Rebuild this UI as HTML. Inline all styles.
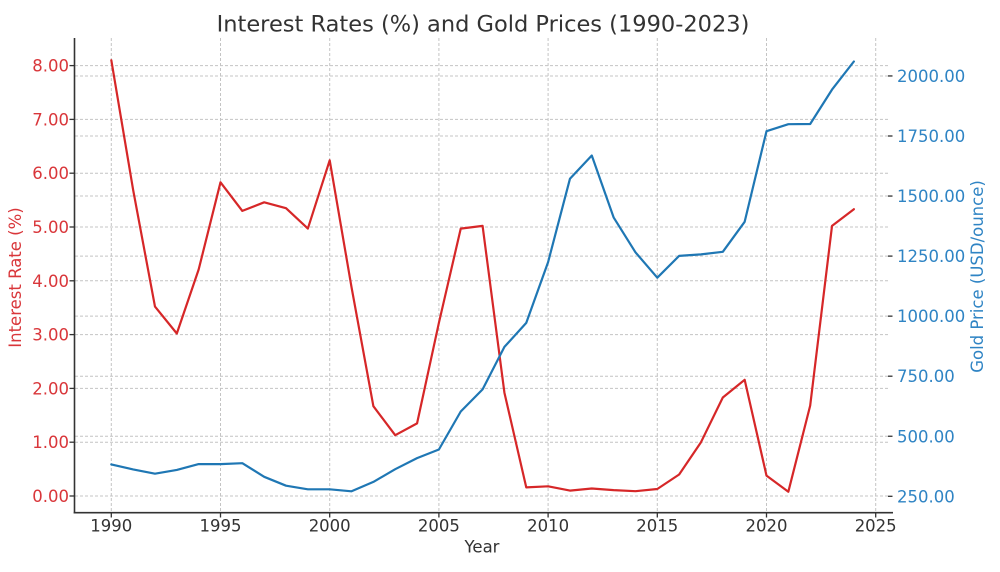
<!DOCTYPE html>
<html>
<head>
<meta charset="utf-8">
<style>
  html,body{margin:0;padding:0;background:#fff;}
  svg{display:block;}
  text{font-family:"DejaVu Sans","Liberation Sans",sans-serif;}
</style>
</head>
<body>
<svg width="1000" height="572" viewBox="0 0 1000 572" xmlns="http://www.w3.org/2000/svg">
  <rect x="0" y="0" width="1000" height="572" fill="#ffffff"/>

  <!-- vertical grid -->
  <g stroke="#c4c4c4" stroke-width="1" stroke-dasharray="3,2" fill="none">
    <line x1="111.3" y1="38" x2="111.3" y2="512"/>
    <line x1="220.5" y1="38" x2="220.5" y2="512"/>
    <line x1="329.7" y1="38" x2="329.7" y2="512"/>
    <line x1="438.9" y1="38" x2="438.9" y2="512"/>
    <line x1="548.1" y1="38" x2="548.1" y2="512"/>
    <line x1="657.3" y1="38" x2="657.3" y2="512"/>
    <line x1="766.5" y1="38" x2="766.5" y2="512"/>
    <line x1="875.7" y1="38" x2="875.7" y2="512"/>
  </g>
  <!-- horizontal grid (left axis) -->
  <g stroke="#c4c4c4" stroke-width="1" stroke-dasharray="3,2" fill="none">
    <line x1="75" y1="496" x2="889" y2="496"/>
    <line x1="75" y1="442.2" x2="889" y2="442.2"/>
    <line x1="75" y1="388.4" x2="889" y2="388.4"/>
    <line x1="75" y1="334.6" x2="889" y2="334.6"/>
    <line x1="75" y1="280.8" x2="889" y2="280.8"/>
    <line x1="75" y1="227" x2="889" y2="227"/>
    <line x1="75" y1="173.2" x2="889" y2="173.2"/>
    <line x1="75" y1="119.4" x2="889" y2="119.4"/>
    <line x1="75" y1="65.6" x2="889" y2="65.6"/>
  </g>
  <!-- horizontal grid (right axis) -->
  <g stroke="#c4c4c4" stroke-width="1" stroke-dasharray="3,2" fill="none">
    <line x1="75" y1="436.25" x2="889" y2="436.25"/>
    <line x1="75" y1="376.2" x2="889" y2="376.2"/>
    <line x1="75" y1="316.15" x2="889" y2="316.15"/>
    <line x1="75" y1="256.1" x2="889" y2="256.1"/>
    <line x1="75" y1="196.05" x2="889" y2="196.05"/>
    <line x1="75" y1="136" x2="889" y2="136"/>
    <line x1="75" y1="75.95" x2="889" y2="75.95"/>
  </g>

  <!-- Interest rate series -->
  <polyline fill="none" stroke="#d62728" stroke-width="2.2" stroke-linejoin="round" stroke-linecap="round"
    points="111.3,60.2 133.14,189.9 154.98,306.6 176.82,333.5 198.66,269.5 220.5,182.3 242.34,210.9 264.18,202.3 286.02,208.2 307.86,228.6 329.7,160.3 351.54,287.3 373.38,406.2 395.22,435.2 417.06,423.4 438.9,322.8 460.74,228.6 482.58,225.9 504.42,392.7 526.26,487.4 548.1,486.3 569.94,490.6 591.78,488.5 613.62,490.1 635.46,491.2 657.3,489.0 679.14,474.5 700.98,442.2 722.82,397.5 744.66,379.8 766.5,475.6 788.34,491.7 810.18,405.6 832.02,225.9 853.86,209.2"/>

  <!-- Gold price series -->
  <polyline fill="none" stroke="#1f77b4" stroke-width="2.2" stroke-linejoin="round" stroke-linecap="round"
    points="111.3,464.4 133.14,469.4 154.98,473.7 176.82,469.9 198.66,464.1 220.5,464.1 242.34,463.2 264.18,476.8 286.02,485.7 307.86,489.3 329.7,489.3 351.54,491.3 373.38,481.9 395.22,469.2 417.06,458.1 438.9,449.5 460.74,411.5 482.58,389.4 504.42,346.9 526.26,322.9 548.1,262.1 569.94,178.8 591.78,155.5 613.62,217.4 635.46,252.3 657.3,277.7 679.14,255.9 700.98,254.4 722.82,251.8 744.66,221.8 766.5,131.2 788.34,124.2 810.18,124.0 832.02,89.6 853.86,61.5"/>

  <!-- spines -->
  <line x1="74.5" y1="38" x2="74.5" y2="513.5" stroke="#333" stroke-width="1.6"/>
  <line x1="73.7" y1="512.7" x2="893" y2="512.7" stroke="#333" stroke-width="1.6"/>

  <!-- x ticks -->
  <g stroke="#333" stroke-width="1.3">
    <line x1="111.3" y1="512.7" x2="111.3" y2="517.5"/>
    <line x1="220.5" y1="512.7" x2="220.5" y2="517.5"/>
    <line x1="329.7" y1="512.7" x2="329.7" y2="517.5"/>
    <line x1="438.9" y1="512.7" x2="438.9" y2="517.5"/>
    <line x1="548.1" y1="512.7" x2="548.1" y2="517.5"/>
    <line x1="657.3" y1="512.7" x2="657.3" y2="517.5"/>
    <line x1="766.5" y1="512.7" x2="766.5" y2="517.5"/>
    <line x1="875.7" y1="512.7" x2="875.7" y2="517.5"/>
  </g>
  <!-- left ticks -->
  <g stroke="#333" stroke-width="1.3">
    <line x1="69.5" y1="496" x2="74.5" y2="496"/>
    <line x1="69.5" y1="442.2" x2="74.5" y2="442.2"/>
    <line x1="69.5" y1="388.4" x2="74.5" y2="388.4"/>
    <line x1="69.5" y1="334.6" x2="74.5" y2="334.6"/>
    <line x1="69.5" y1="280.8" x2="74.5" y2="280.8"/>
    <line x1="69.5" y1="227" x2="74.5" y2="227"/>
    <line x1="69.5" y1="173.2" x2="74.5" y2="173.2"/>
    <line x1="69.5" y1="119.4" x2="74.5" y2="119.4"/>
    <line x1="69.5" y1="65.6" x2="74.5" y2="65.6"/>
  </g>
  <!-- right ticks -->
  <g stroke="#333" stroke-width="1.3">
    <line x1="888" y1="496.3" x2="892.5" y2="496.3"/>
    <line x1="888" y1="436.25" x2="892.5" y2="436.25"/>
    <line x1="888" y1="376.2" x2="892.5" y2="376.2"/>
    <line x1="888" y1="316.15" x2="892.5" y2="316.15"/>
    <line x1="888" y1="256.1" x2="892.5" y2="256.1"/>
    <line x1="888" y1="196.05" x2="892.5" y2="196.05"/>
    <line x1="888" y1="136" x2="892.5" y2="136"/>
    <line x1="888" y1="75.95" x2="892.5" y2="75.95"/>
  </g>

  <!-- title -->
  <text x="483" y="31.5" font-size="22.5" fill="#333" text-anchor="middle">Interest Rates (%) and Gold Prices (1990-2023)</text>

  <!-- left tick labels -->
  <g font-size="16.5" fill="#d9363a" text-anchor="end">
    <text x="69" y="502">0.00</text>
    <text x="69" y="448.2">1.00</text>
    <text x="69" y="394.4">2.00</text>
    <text x="69" y="340.6">3.00</text>
    <text x="69" y="286.8">4.00</text>
    <text x="69" y="233">5.00</text>
    <text x="69" y="179.2">6.00</text>
    <text x="69" y="125.4">7.00</text>
    <text x="69" y="71.6">8.00</text>
  </g>

  <!-- right tick labels -->
  <g font-size="16.5" fill="#2f84c4" text-anchor="start">
    <text x="897" y="502.3">250.00</text>
    <text x="897" y="442.25">500.00</text>
    <text x="897" y="382.2">750.00</text>
    <text x="897" y="322.15">1000.00</text>
    <text x="897" y="262.1">1250.00</text>
    <text x="897" y="202.05">1500.00</text>
    <text x="897" y="142">1750.00</text>
    <text x="897" y="81.95">2000.00</text>
  </g>

  <!-- x tick labels -->
  <g font-size="16.5" fill="#333" text-anchor="middle">
    <text x="111.3" y="531.7">1990</text>
    <text x="220.5" y="531.7">1995</text>
    <text x="329.7" y="531.7">2000</text>
    <text x="438.9" y="531.7">2005</text>
    <text x="548.1" y="531.7">2010</text>
    <text x="657.3" y="531.7">2015</text>
    <text x="766.5" y="531.7">2020</text>
    <text x="875.7" y="531.7">2025</text>
  </g>

  <!-- axis labels -->
  <text x="482" y="552.5" font-size="16.5" fill="#333" text-anchor="middle">Year</text>
  <text transform="translate(21,277.5) rotate(-90)" font-size="16.5" fill="#d9363a" text-anchor="middle">Interest Rate (%)</text>
  <text transform="translate(983,276.5) rotate(-90)" font-size="16.5" fill="#2f84c4" text-anchor="middle">Gold Price (USD/ounce)</text>
</svg>
</body>
</html>
